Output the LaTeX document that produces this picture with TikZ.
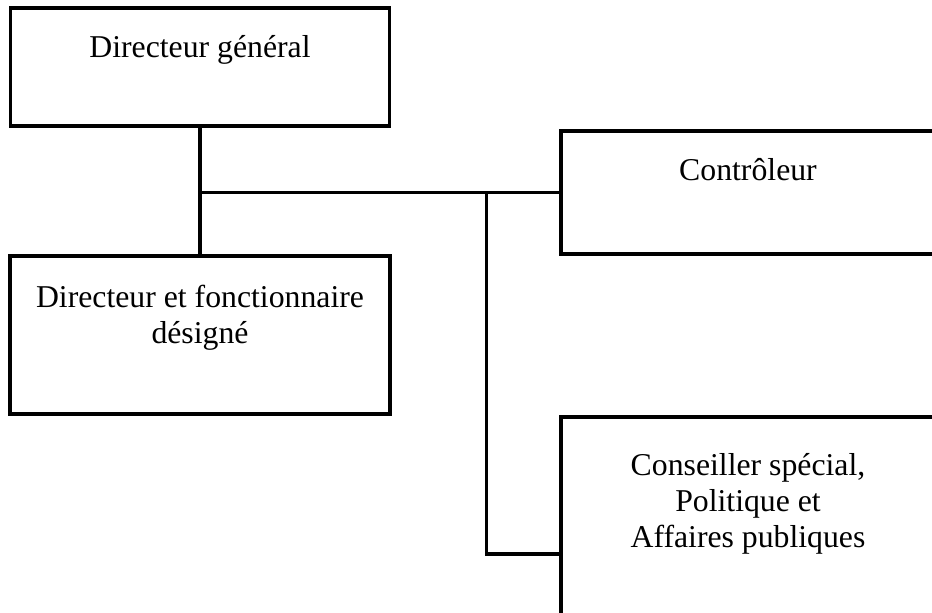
\documentclass[tikz,border=0pt]{standalone}
\usepackage{fontspec}
\setmainfont{Liberation Serif}
\usepackage{tikz}
\usetikzlibrary{positioning}

\begin{document}
\begin{tikzpicture}[x=1pt,y=-1pt,
    orgbox/.style={draw=black,line width=3.3pt,rectangle,inner sep=0pt},
    orglabel/.style={align=center,inner sep=0pt,font=\fontsize{31.75pt}{36pt}\selectfont},
    link/.style={draw=black,line width=3.3pt}]
    \useasboundingbox (0,0) rectangle (932,613);
    \clip (0,0) rectangle (932,613);
    % boxes
    \node[orgbox,minimum width=379pt,minimum height=118pt] (dg) at (200,67) {};
    \node[orgbox,minimum width=380pt,minimum height=158pt] (dfd) at (200,335) {};
    \node[orgbox,minimum width=374pt,minimum height=123pt] (ctrl) at (748,192.5) {};
    \node[orgbox,minimum width=374pt,minimum height=274pt] (csp) at (748,554) {};
    % texts (base = last line)
    \node[orglabel,anchor=base] (dgtxt) at ([yshift=-51pt]dg.north) {Directeur général};
    \node[orglabel,anchor=base] (dfdtxt) at ([yshift=-89pt]dfd.north) {Directeur et fonctionnaire\\désigné};
    \node[orglabel,anchor=base] (ctrltxt) at ([yshift=-51pt]ctrl.north) {Contrôleur};
    \node[orglabel,anchor=base] (csptxt) at ([yshift=-132pt]csp.north) {Conseiller spécial,\\Politique et\\Affaires publiques};
    % lines
    \coordinate (j1) at (dg.south |- ctrl.west);
    \coordinate (j2) at ([xshift=-73pt]ctrl.west);
    \draw[link] (dg.south) -- (dfd.north);
    \draw[link] (j1) -- (ctrl.west);
    \draw[link] (j2) |- (csp.west);
\end{tikzpicture}
\end{document}
